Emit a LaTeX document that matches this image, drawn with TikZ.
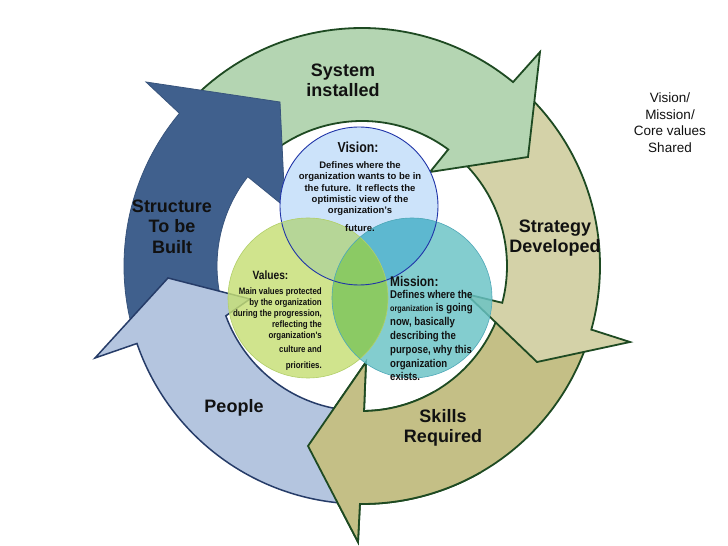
\documentclass[tikz,border=0pt]{standalone}
\usepackage{fontspec}
\setmainfont{Liberation Sans}
\newfontfamily\narrowsans[FakeStretch=0.85]{Liberation Sans}
\definecolor{sysC}{HTML}{B4D5B2}
\definecolor{stratC}{HTML}{D4D2A8}
\definecolor{skillC}{HTML}{C4BF86}
\definecolor{peopleC}{HTML}{B4C5DF}
\definecolor{structC}{HTML}{40608D}
\definecolor{dgreen}{HTML}{1E4A22}
\definecolor{navy}{HTML}{263C68}
\definecolor{visionC}{HTML}{CCE3FA}
\definecolor{visionB}{HTML}{2035A8}
\definecolor{valuesC}{HTML}{C6DF74}
\definecolor{valuesB}{HTML}{B2CF6A}
\definecolor{missionC}{HTML}{68C3C5}
\definecolor{missionB}{HTML}{4FA8B8}
\definecolor{lensVV}{HTML}{B6D697}
\definecolor{lensVM}{HTML}{5DB8D0}
\definecolor{lensMV}{HTML}{8BCA64}
\definecolor{txt}{HTML}{111111}
\tikzset{
  sysfill/.style={fill=sysC},
  sysline/.style={draw=dgreen, line width=1.8pt, line join=miter},
  stratfill/.style={fill=stratC},
  stratline/.style={draw=dgreen, line width=1.8pt, line join=miter},
  skillsfill/.style={fill=skillC},
  skillsline/.style={draw=dgreen, line width=1.8pt, line join=miter},
  structfill/.style={fill=structC},
  structline/.style={draw=structC!88!black, line width=0.8pt, line join=miter},
  peoplefill/.style={fill=peopleC},
  peopleline/.style={draw=navy, line width=1.5pt, line join=miter},
  biglabel/.style={inner sep=0pt, align=center, text=txt, font=\fontsize{18}{20.5}\selectfont\bfseries},
  circtitle/.style={inner sep=0pt, text=txt},
  circbody/.style={inner sep=0pt, text=txt}
}
% #1 style prefix, #2 tail angle, #3 outer notch angle, #4 outer barb, #5 tip, #6 inner barb, #7 inner notch angle
\newcommand\cyclearrow[7]{%
  \fill[#1fill] (#2:238pt) arc[start angle=#2, end angle=#3, radius=238pt] -- #4 -- #5 -- #6 -- (#7:145pt) arc[start angle=#7, end angle=#2, radius=145pt] -- cycle;
  \draw[#1line] (#2:238pt) arc[start angle=#2, end angle=#3, radius=238pt] -- #4 -- #5 -- #6 -- (#7:145pt) arc[start angle=#7, end angle=#2, radius=145pt];
}
\begin{document}
\begin{tikzpicture}[x=1pt, y=1pt]
\useasboundingbox (0,0) rectangle (728,546);
\fill[white] (0,0) rectangle (728,546);

\begin{scope}[shift={(362,280)}]
  \cyclearrow{skills}{-18}{-90.5}{(-4,-276)}{(-54,-180)}{(4,-96)}{-89.2}
  \cyclearrow{strat}{47}{-15.5}{(268,-76)}{(175,-96)}{(104,-28)}{-14.7}
  \cyclearrow{sys}{136}{50.6}{(178,214)}{(166,109)}{(68,94)}{53.5}
  \cyclearrow{struct}{196}{140.1}{(-216,184)}{(-82,164)}{(-77,59)}{142}
  \cyclearrow{people}{-93.5}{-161}{(-267,-92)}{(-194,-12)}{(-112,-33)}{-159.9}
  \cyclearrow{skills}{-60}{-90.5}{(-4,-276)}{(-54,-180)}{(4,-96)}{-89.2}
\end{scope}

% circles
\coordinate (Cv) at (359,340);
\coordinate (Cval) at (308,248);
\coordinate (Cm) at (412,248);
\fill[visionC] (Cv) circle[radius=79pt];
\fill[valuesC, opacity=0.82] (Cval) circle[radius=80pt];
\fill[missionC, opacity=0.82] (Cm) circle[radius=80pt];
\begin{scope}
  \clip (Cv) circle[radius=79pt];
  \fill[lensVV] (Cval) circle[radius=80pt];
  \fill[lensVM] (Cm) circle[radius=80pt];
\end{scope}
\begin{scope}
  \clip (Cval) circle[radius=80pt];
  \fill[lensMV] (Cm) circle[radius=80pt];
\end{scope}
\draw[visionB, line width=0.9pt] (Cv) circle[radius=79pt];
\draw[valuesB, line width=0.6pt] (Cval) circle[radius=80pt];
\draw[missionB, line width=0.6pt] (Cm) circle[radius=80pt];

% arrow labels
\node[biglabel] (lsys) at (343,465.5) {System\\installed};
\node[biglabel] (lstruct) at (172,319.5) {Structure\\To be\\Built};
\node[biglabel] (lstrat) at (555,308) {Strategy\\Developed};
\node[biglabel] (lskills) at (443,118) {Skills\\Required};
\node[biglabel] (lpeople) at (234,138) {People};

% side note
\node[inner sep=0pt, align=center, text=txt, font=\fontsize{13.5}{16.5}\selectfont] (note) at (670,423.5) {Vision/\\Mission/\\Core values\\Shared};

% circle texts
\node[circtitle, anchor=base, font=\narrowsans\fontsize{14.5}{16}\selectfont\bfseries] (tvis) at (358,393) {Vision:};
\node[circbody, anchor=north, align=center, font=\fontsize{9.5}{11.3}\selectfont\bfseries] (bvis) at (360,384.5)
  {Defines where the\\organization wants to be in\\the future.\ \ It reflects the\\optimistic view of the\\organization's\\[6.7pt]future.};

\node[circtitle, anchor=base, font=\narrowsans\fontsize{12}{14}\selectfont\bfseries] (tval) at (270.5,266) {Values:};
\node[circbody, anchor=north east, align=right, font=\narrowsans\fontsize{9.3}{11}\selectfont\bfseries] (bval) at (322,258.3)
  {Main values protected\\by the organization\\during the progression,\\reflecting the\\organization's\\[3pt]culture and\\[5pt]priorities.};

\node[circtitle, anchor=base west, font=\narrowsans\fontsize{14}{16}\selectfont\bfseries] (tmis) at (390,259) {Mission:};
\node[circbody, anchor=north west, align=left, font=\narrowsans\fontsize{11.3}{13.8}\selectfont\bfseries] (bmis) at (390,256.2)
  {Defines where the\\{\fontsize{8.5}{8.5}\selectfont organization} is going\\now, basically\\describing the\\purpose, why this\\organization\\exists.};
\end{tikzpicture}
\end{document}
